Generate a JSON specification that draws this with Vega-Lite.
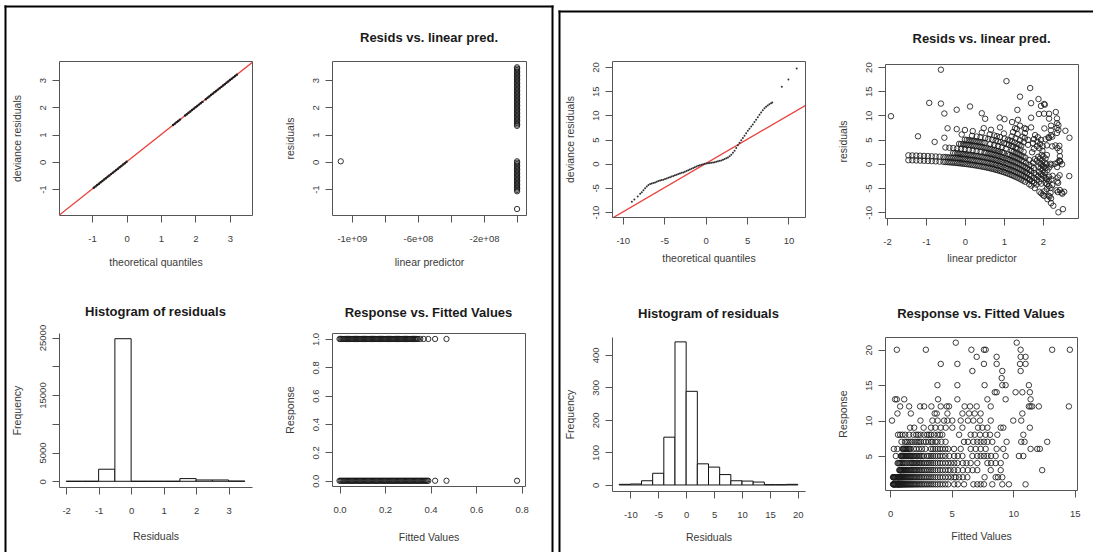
{
  "$schema": "https://vega.github.io/schema/vega-lite/v6.json",
  "background": "white",
  "padding": {"left": 5, "top": 6, "right": 0, "bottom": 0},
  "config": {
    "font": "Liberation Sans",
    "view": {"stroke": "#555", "strokeWidth": 1},
    "axis": {
      "grid": false, "domain": false, "ticks": true, "tickSize": 7, "tickColor": "#555", "tickWidth": 1,
      "labelFont": "Liberation Sans", "labelFontSize": 9.5, "labelColor": "#3a3a3a", "labelFlush": false, "labelOverlap": false,
      "titleFont": "Liberation Sans", "titleFontSize": 10.5, "titleFontWeight": "normal", "titleColor": "#3a3a3a"
    },
    "axisX": {"labelPadding": 11, "titlePadding": 14},
    "axisY": {"labelPadding": 5, "labelAngle": 270, "labelAlign": "center", "labelBaseline": "bottom", "titlePadding": 15},
    "title": {"font": "Liberation Sans", "fontSize": 13, "fontWeight": "bold", "color": "#1a1a1a", "frame": "group", "anchor": "middle", "baseline": "bottom", "offset": 16}
  },
  "datasets": {
    "qqL": [
      {"tq":-0.95,"dr":-0.95},{"tq":-0.9,"dr":-0.9},{"tq":-0.85,"dr":-0.85},{"tq":-0.8,"dr":-0.8},{"tq":-0.75,"dr":-0.75},{"tq":-0.7,"dr":-0.7},{"tq":-0.65,"dr":-0.65},{"tq":-0.6,"dr":-0.6},{"tq":-0.55,"dr":-0.55},{"tq":-0.5,"dr":-0.5},{"tq":-0.45,"dr":-0.45},{"tq":-0.4,"dr":-0.4},{"tq":-0.35,"dr":-0.35},{"tq":-0.3,"dr":-0.3},{"tq":-0.25,"dr":-0.25},{"tq":-0.2,"dr":-0.2},{"tq":-0.15,"dr":-0.15},{"tq":-0.1,"dr":-0.1},{"tq":-0.05,"dr":-0.05},{"tq":0,"dr":0},
      {"tq":1.35,"dr":1.35},{"tq":1.4,"dr":1.4},{"tq":1.45,"dr":1.45},{"tq":1.5,"dr":1.5},{"tq":1.55,"dr":1.55},{"tq":1.7,"dr":1.7},{"tq":1.75,"dr":1.75},{"tq":1.8,"dr":1.8},{"tq":1.85,"dr":1.85},{"tq":1.9,"dr":1.9},{"tq":1.95,"dr":1.95},{"tq":2,"dr":2},{"tq":2.05,"dr":2.05},{"tq":2.1,"dr":2.1},{"tq":2.15,"dr":2.15},{"tq":2.2,"dr":2.2},{"tq":2.3,"dr":2.3},{"tq":2.35,"dr":2.35},{"tq":2.4,"dr":2.4},{"tq":2.45,"dr":2.45},{"tq":2.5,"dr":2.5},{"tq":2.55,"dr":2.55},{"tq":2.6,"dr":2.6},{"tq":2.65,"dr":2.65},{"tq":2.7,"dr":2.7},{"tq":2.75,"dr":2.75},{"tq":2.8,"dr":2.8},{"tq":2.85,"dr":2.85},{"tq":2.9,"dr":2.9},{"tq":2.95,"dr":2.95},{"tq":3,"dr":3},{"tq":3.05,"dr":3.05},{"tq":3.1,"dr":3.1},{"tq":3.15,"dr":3.15},{"tq":3.2,"dr":3.2}
    ],
    "refL": [{"tq":-2,"dr":-2},{"tq":3.8,"dr":3.8}],
    "rvL": [
      {"lp":-1067000000,"res":0.02},{"lp":0,"res":-1.73},
      {"lp":0,"res":1.32},{"lp":0,"res":1.37},{"lp":0,"res":1.42},{"lp":0,"res":1.47},{"lp":0,"res":1.52},{"lp":0,"res":1.57},{"lp":0,"res":1.62},{"lp":0,"res":1.67},{"lp":0,"res":1.72},{"lp":0,"res":1.77},{"lp":0,"res":1.82},{"lp":0,"res":1.87},{"lp":0,"res":1.92},{"lp":0,"res":1.97},{"lp":0,"res":2.02},{"lp":0,"res":2.07},{"lp":0,"res":2.12},{"lp":0,"res":2.17},{"lp":0,"res":2.22},{"lp":0,"res":2.27},{"lp":0,"res":2.32},{"lp":0,"res":2.37},{"lp":0,"res":2.42},{"lp":0,"res":2.47},{"lp":0,"res":2.52},{"lp":0,"res":2.57},{"lp":0,"res":2.62},{"lp":0,"res":2.67},{"lp":0,"res":2.72},{"lp":0,"res":2.77},{"lp":0,"res":2.82},{"lp":0,"res":2.87},{"lp":0,"res":2.92},{"lp":0,"res":2.97},{"lp":0,"res":3.02},{"lp":0,"res":3.07},{"lp":0,"res":3.12},{"lp":0,"res":3.17},{"lp":0,"res":3.22},{"lp":0,"res":3.27},{"lp":0,"res":3.32},{"lp":0,"res":3.37},{"lp":0,"res":3.42},{"lp":0,"res":3.47},
      {"lp":0,"res":-1.08},{"lp":0,"res":-1.03},{"lp":0,"res":-0.98},{"lp":0,"res":-0.93},{"lp":0,"res":-0.88},{"lp":0,"res":-0.83},{"lp":0,"res":-0.78},{"lp":0,"res":-0.73},{"lp":0,"res":-0.68},{"lp":0,"res":-0.63},{"lp":0,"res":-0.58},{"lp":0,"res":-0.53},{"lp":0,"res":-0.48},{"lp":0,"res":-0.43},{"lp":0,"res":-0.38},{"lp":0,"res":-0.33},{"lp":0,"res":-0.28},{"lp":0,"res":-0.23},{"lp":0,"res":-0.18},{"lp":0,"res":-0.13},{"lp":0,"res":-0.08},{"lp":0,"res":-0.03},{"lp":0,"res":0.02}
    ],
    "histL": [
      {"lo":-2,"hi":-1.5,"n":0},{"lo":-1.5,"hi":-1,"n":0},{"lo":-1,"hi":-0.5,"n":2100},{"lo":-0.5,"hi":0,"n":24800},{"lo":0,"hi":0.5,"n":0},{"lo":0.5,"hi":1,"n":0},{"lo":1,"hi":1.5,"n":0},{"lo":1.5,"hi":2,"n":470},{"lo":2,"hi":2.5,"n":230},{"lo":2.5,"hi":3,"n":230},{"lo":3,"hi":3.5,"n":40}
    ],
    "rfL": [
      {"fv":0,"resp":1},{"fv":0.005,"resp":1},{"fv":0.01,"resp":1},{"fv":0.015,"resp":1},{"fv":0.02,"resp":1},{"fv":0.025,"resp":1},{"fv":0.03,"resp":1},{"fv":0.035,"resp":1},{"fv":0.04,"resp":1},{"fv":0.045,"resp":1},{"fv":0.05,"resp":1},{"fv":0.055,"resp":1},{"fv":0.06,"resp":1},{"fv":0.065,"resp":1},{"fv":0.07,"resp":1},{"fv":0.075,"resp":1},{"fv":0.08,"resp":1},{"fv":0.085,"resp":1},{"fv":0.09,"resp":1},{"fv":0.095,"resp":1},{"fv":0.1,"resp":1},{"fv":0.105,"resp":1},{"fv":0.11,"resp":1},{"fv":0.115,"resp":1},{"fv":0.12,"resp":1},{"fv":0.125,"resp":1},{"fv":0.13,"resp":1},{"fv":0.135,"resp":1},{"fv":0.14,"resp":1},{"fv":0.145,"resp":1},{"fv":0.15,"resp":1},{"fv":0.155,"resp":1},{"fv":0.16,"resp":1},{"fv":0.165,"resp":1},{"fv":0.17,"resp":1},{"fv":0.175,"resp":1},{"fv":0.18,"resp":1},{"fv":0.185,"resp":1},{"fv":0.19,"resp":1},{"fv":0.195,"resp":1},{"fv":0.2,"resp":1},{"fv":0.205,"resp":1},{"fv":0.21,"resp":1},{"fv":0.215,"resp":1},{"fv":0.22,"resp":1},{"fv":0.225,"resp":1},{"fv":0.23,"resp":1},{"fv":0.235,"resp":1},{"fv":0.24,"resp":1},{"fv":0.245,"resp":1},{"fv":0.25,"resp":1},{"fv":0.255,"resp":1},{"fv":0.26,"resp":1},{"fv":0.265,"resp":1},{"fv":0.27,"resp":1},{"fv":0.275,"resp":1},{"fv":0.28,"resp":1},{"fv":0.285,"resp":1},{"fv":0.29,"resp":1},{"fv":0.295,"resp":1},{"fv":0.3,"resp":1},{"fv":0.305,"resp":1},{"fv":0.31,"resp":1},{"fv":0.315,"resp":1},{"fv":0.32,"resp":1},{"fv":0.325,"resp":1},{"fv":0.33,"resp":1},{"fv":0.335,"resp":1},{"fv":0.34,"resp":1},{"fv":0.345,"resp":1},{"fv":0.355,"resp":1},{"fv":0.37,"resp":1},{"fv":0.39,"resp":1},{"fv":0.42,"resp":1},{"fv":0.47,"resp":1},
      {"fv":0,"resp":0},{"fv":0.005,"resp":0},{"fv":0.01,"resp":0},{"fv":0.015,"resp":0},{"fv":0.02,"resp":0},{"fv":0.025,"resp":0},{"fv":0.03,"resp":0},{"fv":0.035,"resp":0},{"fv":0.04,"resp":0},{"fv":0.045,"resp":0},{"fv":0.05,"resp":0},{"fv":0.055,"resp":0},{"fv":0.06,"resp":0},{"fv":0.065,"resp":0},{"fv":0.07,"resp":0},{"fv":0.075,"resp":0},{"fv":0.08,"resp":0},{"fv":0.085,"resp":0},{"fv":0.09,"resp":0},{"fv":0.095,"resp":0},{"fv":0.1,"resp":0},{"fv":0.105,"resp":0},{"fv":0.11,"resp":0},{"fv":0.115,"resp":0},{"fv":0.12,"resp":0},{"fv":0.125,"resp":0},{"fv":0.13,"resp":0},{"fv":0.135,"resp":0},{"fv":0.14,"resp":0},{"fv":0.145,"resp":0},{"fv":0.15,"resp":0},{"fv":0.155,"resp":0},{"fv":0.16,"resp":0},{"fv":0.165,"resp":0},{"fv":0.17,"resp":0},{"fv":0.175,"resp":0},{"fv":0.18,"resp":0},{"fv":0.185,"resp":0},{"fv":0.19,"resp":0},{"fv":0.195,"resp":0},{"fv":0.2,"resp":0},{"fv":0.205,"resp":0},{"fv":0.21,"resp":0},{"fv":0.215,"resp":0},{"fv":0.22,"resp":0},{"fv":0.225,"resp":0},{"fv":0.23,"resp":0},{"fv":0.235,"resp":0},{"fv":0.24,"resp":0},{"fv":0.245,"resp":0},{"fv":0.25,"resp":0},{"fv":0.255,"resp":0},{"fv":0.26,"resp":0},{"fv":0.265,"resp":0},{"fv":0.27,"resp":0},{"fv":0.275,"resp":0},{"fv":0.28,"resp":0},{"fv":0.285,"resp":0},{"fv":0.29,"resp":0},{"fv":0.295,"resp":0},{"fv":0.3,"resp":0},{"fv":0.305,"resp":0},{"fv":0.31,"resp":0},{"fv":0.315,"resp":0},{"fv":0.32,"resp":0},{"fv":0.325,"resp":0},{"fv":0.33,"resp":0},{"fv":0.335,"resp":0},{"fv":0.34,"resp":0},{"fv":0.345,"resp":0},{"fv":0.35,"resp":0},{"fv":0.355,"resp":0},{"fv":0.36,"resp":0},{"fv":0.365,"resp":0},{"fv":0.37,"resp":0},{"fv":0.375,"resp":0},{"fv":0.38,"resp":0},{"fv":0.385,"resp":0},{"fv":0.39,"resp":0},{"fv":0.42,"resp":0},{"fv":0.47,"resp":0},{"fv":0.78,"resp":0}
    ],
    "qqR": [
      {"tq":-8.9,"dr":-7.9},{"tq":-8.6,"dr":-7.4},{"tq":-8.2,"dr":-6.8},{"tq":-7.9,"dr":-6.2},{"tq":-7.7,"dr":-5.9},{"tq":-7.5,"dr":-5.5},{"tq":-7.3,"dr":-5.1},{"tq":-7.1,"dr":-4.7},{"tq":-6.9,"dr":-4.4},{"tq":-6.7,"dr":-4.2},{"tq":-6.5,"dr":-4.1},{"tq":-6.3,"dr":-4.0},{"tq":-6.1,"dr":-3.9},{"tq":-5.9,"dr":-3.75},{"tq":-5.7,"dr":-3.6},{"tq":-5.5,"dr":-3.5},{"tq":-5.3,"dr":-3.4},{"tq":-5.1,"dr":-3.3},{"tq":-4.9,"dr":-3.15},{"tq":-4.7,"dr":-3.05},{"tq":-4.5,"dr":-2.9},{"tq":-4.3,"dr":-2.8},{"tq":-4.1,"dr":-2.65},{"tq":-3.9,"dr":-2.55},{"tq":-3.7,"dr":-2.4},{"tq":-3.5,"dr":-2.3},{"tq":-3.3,"dr":-2.15},{"tq":-3.1,"dr":-2.05},{"tq":-2.9,"dr":-1.9},{"tq":-2.7,"dr":-1.8},{"tq":-2.5,"dr":-1.65},{"tq":-2.3,"dr":-1.5},{"tq":-2.1,"dr":-1.35},{"tq":-1.9,"dr":-1.2},{"tq":-1.7,"dr":-1.05},{"tq":-1.5,"dr":-0.9},{"tq":-1.3,"dr":-0.75},{"tq":-1.1,"dr":-0.6},{"tq":-0.9,"dr":-0.45},{"tq":-0.7,"dr":-0.3},{"tq":-0.5,"dr":-0.2},{"tq":-0.3,"dr":-0.1},{"tq":-0.1,"dr":-0.03},{"tq":0.1,"dr":0.03},{"tq":0.3,"dr":0.08},{"tq":0.5,"dr":0.13},{"tq":0.7,"dr":0.18},{"tq":0.9,"dr":0.25},{"tq":1.1,"dr":0.32},{"tq":1.3,"dr":0.4},{"tq":1.5,"dr":0.48},{"tq":1.7,"dr":0.58},{"tq":1.9,"dr":0.68},{"tq":2.1,"dr":0.8},{"tq":2.3,"dr":0.95},{"tq":2.5,"dr":1.1},{"tq":2.7,"dr":1.3},{"tq":2.9,"dr":1.55},{"tq":3.1,"dr":1.85},{"tq":3.3,"dr":2.25},{"tq":3.5,"dr":2.7},{"tq":3.7,"dr":3.25},{"tq":3.9,"dr":3.8},{"tq":4.1,"dr":4.35},{"tq":4.3,"dr":4.85},{"tq":4.5,"dr":5.3},{"tq":4.7,"dr":5.8},{"tq":4.9,"dr":6.3},{"tq":5.1,"dr":6.8},{"tq":5.3,"dr":7.25},{"tq":5.5,"dr":7.7},{"tq":5.7,"dr":8.1},{"tq":5.9,"dr":8.6},{"tq":6.1,"dr":9.1},{"tq":6.3,"dr":9.6},{"tq":6.5,"dr":10.1},{"tq":6.7,"dr":10.6},{"tq":6.9,"dr":11.05},{"tq":7.1,"dr":11.45},{"tq":7.3,"dr":11.8},{"tq":7.5,"dr":12.05},{"tq":7.7,"dr":12.3},{"tq":7.9,"dr":12.5},{"tq":8.05,"dr":12.65},{"tq":9.2,"dr":15.9},{"tq":10.0,"dr":17.4},{"tq":11.0,"dr":19.7}
    ],
    "refR": [{"tq":-12,"dr":-12},{"tq":12.5,"dr":12.5}],
    "histR": [
      {"lo":-12,"hi":-10,"n":2},{"lo":-10,"hi":-8,"n":3},{"lo":-8,"hi":-6,"n":13},{"lo":-6,"hi":-4,"n":36},{"lo":-4,"hi":-2,"n":147},{"lo":-2,"hi":0,"n":440},{"lo":0,"hi":2,"n":288},{"lo":2,"hi":4,"n":65},{"lo":4,"hi":6,"n":55},{"lo":6,"hi":8,"n":32},{"lo":8,"hi":10,"n":13},{"lo":10,"hi":12,"n":12},{"lo":12,"hi":14,"n":9},{"lo":14,"hi":16,"n":1},{"lo":16,"hi":18,"n":1},{"lo":18,"hi":20,"n":2}
    ],
    "obs": [
      {"lp":-1.45,"fit":0.235,"resp":1,"res":0.765},{"lp":-1.35,"fit":0.259,"resp":1,"res":0.741},{"lp":-1.25,"fit":0.287,"resp":1,"res":0.713},{"lp":-1.15,"fit":0.317,"resp":1,"res":0.683},{"lp":-1.05,"fit":0.35,"resp":1,"res":0.65},{"lp":-0.95,"fit":0.387,"resp":1,"res":0.613},{"lp":-0.85,"fit":0.427,"resp":1,"res":0.573},{"lp":-0.75,"fit":0.472,"resp":1,"res":0.528},{"lp":-0.65,"fit":0.522,"resp":1,"res":0.478},{"lp":-0.55,"fit":0.577,"resp":1,"res":0.423},
      {"lp":-0.5,"fit":0.607,"resp":1,"res":0.393},{"lp":-0.45,"fit":0.638,"resp":1,"res":0.362},{"lp":-0.4,"fit":0.67,"resp":1,"res":0.33},{"lp":-0.35,"fit":0.705,"resp":1,"res":0.295},{"lp":-0.3,"fit":0.741,"resp":1,"res":0.259},{"lp":-0.25,"fit":0.779,"resp":1,"res":0.221},{"lp":-0.2,"fit":0.819,"resp":1,"res":0.181},{"lp":-0.15,"fit":0.861,"resp":1,"res":0.139},{"lp":-0.1,"fit":0.905,"resp":1,"res":0.095},{"lp":-0.05,"fit":0.951,"resp":1,"res":0.049},
      {"lp":0,"fit":1,"resp":1,"res":0},{"lp":0.05,"fit":1.051,"resp":1,"res":-0.051},{"lp":0.1,"fit":1.105,"resp":1,"res":-0.105},{"lp":0.15,"fit":1.162,"resp":1,"res":-0.162},{"lp":0.2,"fit":1.221,"resp":1,"res":-0.221},{"lp":0.25,"fit":1.284,"resp":1,"res":-0.284},{"lp":0.3,"fit":1.35,"resp":1,"res":-0.35},{"lp":0.35,"fit":1.419,"resp":1,"res":-0.419},{"lp":0.4,"fit":1.492,"resp":1,"res":-0.492},{"lp":0.45,"fit":1.568,"resp":1,"res":-0.568},
      {"lp":0.5,"fit":1.649,"resp":1,"res":-0.649},{"lp":0.55,"fit":1.733,"resp":1,"res":-0.733},{"lp":0.6,"fit":1.822,"resp":1,"res":-0.822},{"lp":0.65,"fit":1.916,"resp":1,"res":-0.916},{"lp":0.7,"fit":2.014,"resp":1,"res":-1.014},{"lp":0.75,"fit":2.117,"resp":1,"res":-1.117},{"lp":0.8,"fit":2.226,"resp":1,"res":-1.226},{"lp":0.85,"fit":2.34,"resp":1,"res":-1.34},{"lp":0.9,"fit":2.46,"resp":1,"res":-1.46},{"lp":0.95,"fit":2.586,"resp":1,"res":-1.586},
      {"lp":1,"fit":2.718,"resp":1,"res":-1.718},{"lp":1.05,"fit":2.858,"resp":1,"res":-1.858},{"lp":1.1,"fit":3.004,"resp":1,"res":-2.004},{"lp":1.15,"fit":3.158,"resp":1,"res":-2.158},{"lp":1.2,"fit":3.32,"resp":1,"res":-2.32},{"lp":1.25,"fit":3.49,"resp":1,"res":-2.49},{"lp":1.3,"fit":3.669,"resp":1,"res":-2.669},{"lp":1.35,"fit":3.857,"resp":1,"res":-2.857},{"lp":1.4,"fit":4.055,"resp":1,"res":-3.055},{"lp":1.45,"fit":4.263,"resp":1,"res":-3.263},
      {"lp":1.5,"fit":4.482,"resp":1,"res":-3.482},{"lp":1.55,"fit":4.711,"resp":1,"res":-3.711},{"lp":1.649,"fit":5.2,"resp":1,"res":-4.2},{"lp":1.705,"fit":5.5,"resp":1,"res":-4.5},{"lp":1.792,"fit":6.0,"resp":1,"res":-5.0},{"lp":1.911,"fit":6.76,"resp":1,"res":-5.76},{"lp":1.957,"fit":7.08,"resp":1,"res":-6.08},{"lp":1.995,"fit":7.35,"resp":1,"res":-6.35},{"lp":2.031,"fit":7.62,"resp":1,"res":-6.62},{"lp":2.116,"fit":8.3,"resp":1,"res":-7.3},{"lp":2.209,"fit":9.11,"resp":1,"res":-8.11},{"lp":2.267,"fit":9.65,"resp":1,"res":-8.65},{"lp":2.398,"fit":11.0,"resp":1,"res":-10.0},
      {"lp":-1.45,"fit":0.235,"resp":2,"res":1.765},{"lp":-1.35,"fit":0.259,"resp":2,"res":1.741},{"lp":-1.25,"fit":0.287,"resp":2,"res":1.713},{"lp":-1.15,"fit":0.317,"resp":2,"res":1.683},{"lp":-1.05,"fit":0.35,"resp":2,"res":1.65},{"lp":-0.95,"fit":0.387,"resp":2,"res":1.613},{"lp":-0.85,"fit":0.427,"resp":2,"res":1.573},{"lp":-0.75,"fit":0.472,"resp":2,"res":1.528},{"lp":-0.65,"fit":0.522,"resp":2,"res":1.478},{"lp":-0.55,"fit":0.577,"resp":2,"res":1.423},
      {"lp":-0.5,"fit":0.607,"resp":2,"res":1.393},{"lp":-0.45,"fit":0.638,"resp":2,"res":1.362},{"lp":-0.4,"fit":0.67,"resp":2,"res":1.33},{"lp":-0.35,"fit":0.705,"resp":2,"res":1.295},{"lp":-0.3,"fit":0.741,"resp":2,"res":1.259},{"lp":-0.25,"fit":0.779,"resp":2,"res":1.221},{"lp":-0.2,"fit":0.819,"resp":2,"res":1.181},{"lp":-0.15,"fit":0.861,"resp":2,"res":1.139},{"lp":-0.1,"fit":0.905,"resp":2,"res":1.095},{"lp":-0.05,"fit":0.951,"resp":2,"res":1.049},
      {"lp":0,"fit":1,"resp":2,"res":1},{"lp":0.05,"fit":1.051,"resp":2,"res":0.949},{"lp":0.1,"fit":1.105,"resp":2,"res":0.895},{"lp":0.15,"fit":1.162,"resp":2,"res":0.838},{"lp":0.2,"fit":1.221,"resp":2,"res":0.779},{"lp":0.25,"fit":1.284,"resp":2,"res":0.716},{"lp":0.3,"fit":1.35,"resp":2,"res":0.65},{"lp":0.35,"fit":1.419,"resp":2,"res":0.581},{"lp":0.4,"fit":1.492,"resp":2,"res":0.508},{"lp":0.45,"fit":1.568,"resp":2,"res":0.432},
      {"lp":0.5,"fit":1.649,"resp":2,"res":0.351},{"lp":0.55,"fit":1.733,"resp":2,"res":0.267},{"lp":0.6,"fit":1.822,"resp":2,"res":0.178},{"lp":0.65,"fit":1.916,"resp":2,"res":0.084},{"lp":0.7,"fit":2.014,"resp":2,"res":-0.014},{"lp":0.75,"fit":2.117,"resp":2,"res":-0.117},{"lp":0.8,"fit":2.226,"resp":2,"res":-0.226},{"lp":0.85,"fit":2.34,"resp":2,"res":-0.34},{"lp":0.9,"fit":2.46,"resp":2,"res":-0.46},{"lp":0.95,"fit":2.586,"resp":2,"res":-0.586},
      {"lp":1,"fit":2.718,"resp":2,"res":-0.718},{"lp":1.05,"fit":2.858,"resp":2,"res":-0.858},{"lp":1.1,"fit":3.004,"resp":2,"res":-1.004},{"lp":1.15,"fit":3.158,"resp":2,"res":-1.158},{"lp":1.2,"fit":3.32,"resp":2,"res":-1.32},{"lp":1.25,"fit":3.49,"resp":2,"res":-1.49},{"lp":1.3,"fit":3.669,"resp":2,"res":-1.669},{"lp":1.35,"fit":3.857,"resp":2,"res":-1.857},{"lp":1.4,"fit":4.055,"resp":2,"res":-2.055},{"lp":1.45,"fit":4.263,"resp":2,"res":-2.263},
      {"lp":1.5,"fit":4.482,"resp":2,"res":-2.482},{"lp":1.55,"fit":4.711,"resp":2,"res":-2.711},{"lp":1.6,"fit":4.953,"resp":2,"res":-2.953},{"lp":1.65,"fit":5.207,"resp":2,"res":-3.207},{"lp":1.673,"fit":5.33,"resp":2,"res":-3.33},{"lp":1.723,"fit":5.6,"resp":2,"res":-3.6},{"lp":1.775,"fit":5.9,"resp":2,"res":-3.9},{"lp":1.836,"fit":6.27,"resp":2,"res":-4.27},{"lp":2.037,"fit":7.67,"resp":2,"res":-5.67},{"lp":2.148,"fit":8.57,"resp":2,"res":-6.57},{"lp":2.17,"fit":8.76,"resp":2,"res":-6.76},{"lp":2.209,"fit":9.11,"resp":2,"res":-7.11},
      {"lp":-0.3,"fit":0.741,"resp":3,"res":2.259},{"lp":-0.25,"fit":0.779,"resp":3,"res":2.221},{"lp":-0.2,"fit":0.819,"resp":3,"res":2.181},{"lp":-0.15,"fit":0.861,"resp":3,"res":2.139},{"lp":-0.1,"fit":0.905,"resp":3,"res":2.095},{"lp":-0.05,"fit":0.951,"resp":3,"res":2.049},{"lp":0,"fit":1,"resp":3,"res":2},{"lp":0.05,"fit":1.051,"resp":3,"res":1.949},{"lp":0.1,"fit":1.105,"resp":3,"res":1.895},{"lp":0.15,"fit":1.162,"resp":3,"res":1.838},
      {"lp":0.2,"fit":1.221,"resp":3,"res":1.779},{"lp":0.25,"fit":1.284,"resp":3,"res":1.716},{"lp":0.3,"fit":1.35,"resp":3,"res":1.65},{"lp":0.35,"fit":1.419,"resp":3,"res":1.581},{"lp":0.4,"fit":1.492,"resp":3,"res":1.508},{"lp":0.45,"fit":1.568,"resp":3,"res":1.432},{"lp":0.5,"fit":1.649,"resp":3,"res":1.351},{"lp":0.55,"fit":1.733,"resp":3,"res":1.267},{"lp":0.6,"fit":1.822,"resp":3,"res":1.178},{"lp":0.65,"fit":1.916,"resp":3,"res":1.084},
      {"lp":0.7,"fit":2.014,"resp":3,"res":0.986},{"lp":0.75,"fit":2.117,"resp":3,"res":0.883},{"lp":0.8,"fit":2.226,"resp":3,"res":0.774},{"lp":0.85,"fit":2.34,"resp":3,"res":0.66},{"lp":0.9,"fit":2.46,"resp":3,"res":0.54},{"lp":0.95,"fit":2.586,"resp":3,"res":0.414},{"lp":1,"fit":2.718,"resp":3,"res":0.282},{"lp":1.05,"fit":2.858,"resp":3,"res":0.142},{"lp":1.1,"fit":3.004,"resp":3,"res":-0.004},{"lp":1.15,"fit":3.158,"resp":3,"res":-0.158},
      {"lp":1.2,"fit":3.32,"resp":3,"res":-0.32},{"lp":1.25,"fit":3.49,"resp":3,"res":-0.49},{"lp":1.3,"fit":3.669,"resp":3,"res":-0.669},{"lp":1.35,"fit":3.857,"resp":3,"res":-0.857},{"lp":1.4,"fit":4.055,"resp":3,"res":-1.055},{"lp":1.45,"fit":4.263,"resp":3,"res":-1.263},{"lp":1.5,"fit":4.482,"resp":3,"res":-1.482},{"lp":1.55,"fit":4.711,"resp":3,"res":-1.711},
      {"lp":1.589,"fit":4.9,"resp":3,"res":-1.9},{"lp":1.649,"fit":5.2,"resp":3,"res":-2.2},{"lp":1.705,"fit":5.5,"resp":3,"res":-2.5},{"lp":1.775,"fit":5.9,"resp":3,"res":-2.9},{"lp":1.841,"fit":6.3,"resp":3,"res":-3.3},{"lp":1.902,"fit":6.7,"resp":3,"res":-3.7},{"lp":1.957,"fit":7.08,"resp":3,"res":-4.08},{"lp":2.101,"fit":8.17,"resp":3,"res":-5.17},{"lp":2.195,"fit":8.98,"resp":3,"res":-5.98},{"lp":2.514,"fit":12.35,"resp":3,"res":-9.35},
      {"lp":-0.5,"fit":0.607,"resp":4,"res":3.393},{"lp":-0.4,"fit":0.67,"resp":4,"res":3.33},{"lp":-0.3,"fit":0.741,"resp":4,"res":3.259},{"lp":-0.2,"fit":0.819,"resp":4,"res":3.181},{"lp":-0.1,"fit":0.905,"resp":4,"res":3.095},{"lp":0,"fit":1,"resp":4,"res":3},{"lp":0.1,"fit":1.105,"resp":4,"res":2.895},{"lp":0.2,"fit":1.221,"resp":4,"res":2.779},{"lp":0.3,"fit":1.35,"resp":4,"res":2.65},{"lp":0.4,"fit":1.492,"resp":4,"res":2.508},
      {"lp":0.5,"fit":1.649,"resp":4,"res":2.351},{"lp":0.55,"fit":1.733,"resp":4,"res":2.267},{"lp":0.6,"fit":1.822,"resp":4,"res":2.178},{"lp":0.65,"fit":1.916,"resp":4,"res":2.084},{"lp":0.7,"fit":2.014,"resp":4,"res":1.986},{"lp":0.75,"fit":2.117,"resp":4,"res":1.883},{"lp":0.8,"fit":2.226,"resp":4,"res":1.774},{"lp":0.85,"fit":2.34,"resp":4,"res":1.66},{"lp":0.9,"fit":2.46,"resp":4,"res":1.54},{"lp":0.95,"fit":2.586,"resp":4,"res":1.414},
      {"lp":1,"fit":2.718,"resp":4,"res":1.282},{"lp":1.05,"fit":2.858,"resp":4,"res":1.142},{"lp":1.1,"fit":3.004,"resp":4,"res":0.996},{"lp":1.15,"fit":3.158,"resp":4,"res":0.842},{"lp":1.2,"fit":3.32,"resp":4,"res":0.68},{"lp":1.25,"fit":3.49,"resp":4,"res":0.51},{"lp":1.3,"fit":3.669,"resp":4,"res":0.331},{"lp":1.35,"fit":3.857,"resp":4,"res":0.143},{"lp":1.4,"fit":4.055,"resp":4,"res":-0.055},{"lp":1.45,"fit":4.263,"resp":4,"res":-0.263},
      {"lp":1.5,"fit":4.482,"resp":4,"res":-0.482},{"lp":1.55,"fit":4.711,"resp":4,"res":-0.711},{"lp":1.6,"fit":4.953,"resp":4,"res":-0.953},{"lp":1.65,"fit":5.207,"resp":4,"res":-1.207},{"lp":1.697,"fit":5.46,"resp":4,"res":-1.46},{"lp":1.775,"fit":5.9,"resp":4,"res":-1.9},{"lp":1.825,"fit":6.2,"resp":4,"res":-2.2},{"lp":1.878,"fit":6.54,"resp":4,"res":-2.54},{"lp":1.957,"fit":7.08,"resp":4,"res":-3.08},{"lp":2.067,"fit":7.9,"resp":4,"res":-3.9},{"lp":2.104,"fit":8.2,"resp":4,"res":-4.2},{"lp":2.148,"fit":8.57,"resp":4,"res":-4.57},{"lp":2.195,"fit":8.98,"resp":4,"res":-4.98},
      {"lp":-0.777,"fit":0.46,"resp":5,"res":4.54},{"lp":-0.15,"fit":0.861,"resp":5,"res":4.139},{"lp":-0.1,"fit":0.905,"resp":5,"res":4.095},{"lp":-0.05,"fit":0.951,"resp":5,"res":4.049},{"lp":0,"fit":1,"resp":5,"res":4},{"lp":0.05,"fit":1.051,"resp":5,"res":3.949},{"lp":0.1,"fit":1.105,"resp":5,"res":3.895},{"lp":0.15,"fit":1.162,"resp":5,"res":3.838},{"lp":0.2,"fit":1.221,"resp":5,"res":3.779},{"lp":0.25,"fit":1.284,"resp":5,"res":3.716},
      {"lp":0.3,"fit":1.35,"resp":5,"res":3.65},{"lp":0.35,"fit":1.419,"resp":5,"res":3.581},{"lp":0.4,"fit":1.492,"resp":5,"res":3.508},{"lp":0.45,"fit":1.568,"resp":5,"res":3.432},{"lp":0.5,"fit":1.649,"resp":5,"res":3.351},{"lp":0.55,"fit":1.733,"resp":5,"res":3.267},{"lp":0.6,"fit":1.822,"resp":5,"res":3.178},{"lp":0.65,"fit":1.916,"resp":5,"res":3.084},{"lp":0.7,"fit":2.014,"resp":5,"res":2.986},{"lp":0.75,"fit":2.117,"resp":5,"res":2.883},
      {"lp":0.8,"fit":2.226,"resp":5,"res":2.774},{"lp":0.85,"fit":2.34,"resp":5,"res":2.66},{"lp":0.9,"fit":2.46,"resp":5,"res":2.54},{"lp":0.95,"fit":2.586,"resp":5,"res":2.414},{"lp":1,"fit":2.718,"resp":5,"res":2.282},{"lp":1.1,"fit":3.004,"resp":5,"res":1.996},{"lp":1.15,"fit":3.158,"resp":5,"res":1.842},{"lp":1.2,"fit":3.32,"resp":5,"res":1.68},{"lp":1.25,"fit":3.49,"resp":5,"res":1.51},{"lp":1.3,"fit":3.669,"resp":5,"res":1.331},
      {"lp":1.35,"fit":3.857,"resp":5,"res":1.143},{"lp":1.4,"fit":4.055,"resp":5,"res":0.945},{"lp":1.45,"fit":4.263,"resp":5,"res":0.737},{"lp":1.5,"fit":4.482,"resp":5,"res":0.518},{"lp":1.569,"fit":4.8,"resp":5,"res":0.2},{"lp":1.649,"fit":5.2,"resp":5,"res":-0.2},{"lp":1.705,"fit":5.5,"resp":5,"res":-0.5},{"lp":1.77,"fit":5.87,"resp":5,"res":-0.87},{"lp":1.899,"fit":6.68,"resp":5,"res":-1.68},{"lp":1.957,"fit":7.08,"resp":5,"res":-2.08},
      {"lp":1.995,"fit":7.35,"resp":5,"res":-2.35},{"lp":2.031,"fit":7.62,"resp":5,"res":-2.62},{"lp":2.067,"fit":7.9,"resp":5,"res":-2.9},{"lp":2.104,"fit":8.2,"resp":5,"res":-3.2},{"lp":2.148,"fit":8.57,"resp":5,"res":-3.57},{"lp":2.239,"fit":9.38,"resp":5,"res":-4.38},{"lp":2.348,"fit":10.46,"resp":5,"res":-5.46},{"lp":2.381,"fit":10.82,"resp":5,"res":-5.82},
      {"lp":-1.204,"fit":0.3,"resp":6,"res":5.7},{"lp":-0.528,"fit":0.59,"resp":6,"res":5.41},{"lp":0,"fit":1,"resp":6,"res":5},{"lp":0.05,"fit":1.051,"resp":6,"res":4.949},{"lp":0.1,"fit":1.105,"resp":6,"res":4.895},{"lp":0.15,"fit":1.162,"resp":6,"res":4.838},{"lp":0.2,"fit":1.221,"resp":6,"res":4.779},{"lp":0.25,"fit":1.284,"resp":6,"res":4.716},{"lp":0.3,"fit":1.35,"resp":6,"res":4.65},{"lp":0.35,"fit":1.419,"resp":6,"res":4.581},
      {"lp":0.4,"fit":1.492,"resp":6,"res":4.508},{"lp":0.45,"fit":1.568,"resp":6,"res":4.432},{"lp":0.5,"fit":1.649,"resp":6,"res":4.351},{"lp":0.65,"fit":1.916,"resp":6,"res":4.084},{"lp":0.75,"fit":2.117,"resp":6,"res":3.883},{"lp":0.85,"fit":2.34,"resp":6,"res":3.66},{"lp":0.95,"fit":2.586,"resp":6,"res":3.414},{"lp":1.05,"fit":2.858,"resp":6,"res":3.142},{"lp":1.2,"fit":3.32,"resp":6,"res":2.68},{"lp":1.25,"fit":3.49,"resp":6,"res":2.51},
      {"lp":1.3,"fit":3.669,"resp":6,"res":2.331},{"lp":1.35,"fit":3.857,"resp":6,"res":2.143},{"lp":1.4,"fit":4.055,"resp":6,"res":1.945},{"lp":1.45,"fit":4.263,"resp":6,"res":1.737},{"lp":1.5,"fit":4.482,"resp":6,"res":1.518},{"lp":1.55,"fit":4.711,"resp":6,"res":1.289},{"lp":1.647,"fit":5.19,"resp":6,"res":0.81},{"lp":1.746,"fit":5.73,"resp":6,"res":0.27},{"lp":1.878,"fit":6.54,"resp":6,"res":-0.54},{"lp":1.939,"fit":6.95,"resp":6,"res":-0.95},
      {"lp":1.995,"fit":7.35,"resp":6,"res":-1.35},{"lp":2.049,"fit":7.76,"resp":6,"res":-1.76},{"lp":2.158,"fit":8.65,"resp":6,"res":-2.65},{"lp":2.218,"fit":9.19,"resp":6,"res":-3.19},{"lp":2.435,"fit":11.41,"resp":6,"res":-5.41},{"lp":2.481,"fit":11.95,"resp":6,"res":-5.95},{"lp":2.498,"fit":12.16,"resp":6,"res":-6.16},
      {"lp":-0.083,"fit":0.92,"resp":7,"res":6.08},{"lp":0.182,"fit":1.2,"resp":7,"res":5.8},{"lp":0.3,"fit":1.35,"resp":7,"res":5.65},{"lp":0.4,"fit":1.492,"resp":7,"res":5.508},{"lp":0.519,"fit":1.68,"resp":7,"res":5.32},{"lp":0.6,"fit":1.822,"resp":7,"res":5.178},{"lp":0.7,"fit":2.014,"resp":7,"res":4.986},{"lp":0.788,"fit":2.2,"resp":7,"res":4.8},{"lp":0.85,"fit":2.34,"resp":7,"res":4.66},{"lp":0.912,"fit":2.49,"resp":7,"res":4.51},{"lp":1.0,"fit":2.718,"resp":7,"res":4.282},{"lp":1.065,"fit":2.9,"resp":7,"res":4.1},{"lp":1.131,"fit":3.1,"resp":7,"res":3.9},{"lp":1.2,"fit":3.32,"resp":7,"res":3.68},{"lp":1.233,"fit":3.43,"resp":7,"res":3.57},{"lp":1.3,"fit":3.669,"resp":7,"res":3.331},{"lp":1.345,"fit":3.84,"resp":7,"res":3.16},{"lp":1.426,"fit":4.16,"resp":7,"res":2.84},
      {"lp":1.504,"fit":4.5,"resp":7,"res":2.5},{"lp":1.792,"fit":6.0,"resp":7,"res":1.0},{"lp":1.844,"fit":6.32,"resp":7,"res":0.68},{"lp":1.911,"fit":6.76,"resp":7,"res":0.24},{"lp":1.957,"fit":7.08,"resp":7,"res":-0.08},{"lp":1.995,"fit":7.35,"resp":7,"res":-0.35},{"lp":2.031,"fit":7.62,"resp":7,"res":-0.62},{"lp":2.067,"fit":7.9,"resp":7,"res":-0.9},{"lp":2.116,"fit":8.3,"resp":7,"res":-1.3},{"lp":2.247,"fit":9.46,"resp":7,"res":-2.46},
      {"lp":2.366,"fit":10.65,"resp":7,"res":-3.65},{"lp":2.391,"fit":10.92,"resp":7,"res":-3.92},{"lp":2.546,"fit":12.76,"resp":7,"res":-5.76},
      {"lp":-0.446,"fit":0.64,"resp":8,"res":7.36},{"lp":-0.211,"fit":0.81,"resp":8,"res":7.19},{"lp":0,"fit":1,"resp":8,"res":7},{"lp":0.2,"fit":1.221,"resp":8,"res":6.779},{"lp":0.432,"fit":1.54,"resp":8,"res":6.46},{"lp":0.637,"fit":1.89,"resp":8,"res":6.11},{"lp":0.75,"fit":2.117,"resp":8,"res":5.883},{"lp":0.82,"fit":2.27,"resp":8,"res":5.73},{"lp":0.9,"fit":2.46,"resp":8,"res":5.54},{"lp":1.015,"fit":2.76,"resp":8,"res":5.24},{"lp":1.1,"fit":3.004,"resp":8,"res":4.996},{"lp":1.151,"fit":3.16,"resp":8,"res":4.84},{"lp":1.2,"fit":3.32,"resp":8,"res":4.68},{"lp":1.273,"fit":3.57,"resp":8,"res":4.43},{"lp":1.35,"fit":3.857,"resp":8,"res":4.143},{"lp":1.399,"fit":4.05,"resp":8,"res":3.95},{"lp":1.445,"fit":4.24,"resp":8,"res":3.76},
      {"lp":1.723,"fit":5.6,"resp":8,"res":2.4},{"lp":1.878,"fit":6.54,"resp":8,"res":1.46},{"lp":1.927,"fit":6.87,"resp":8,"res":1.13},{"lp":1.988,"fit":7.3,"resp":8,"res":0.7},{"lp":2.049,"fit":7.76,"resp":8,"res":0.24},{"lp":2.093,"fit":8.11,"resp":8,"res":-0.11},{"lp":2.164,"fit":8.71,"resp":8,"res":-0.71},{"lp":2.381,"fit":10.82,"resp":8,"res":-2.82},
      {"lp":0.482,"fit":1.62,"resp":9,"res":7.38},{"lp":0.668,"fit":1.95,"resp":9,"res":7.05},{"lp":1.0,"fit":2.718,"resp":9,"res":6.282},{"lp":1.2,"fit":3.32,"resp":9,"res":5.68},{"lp":1.3,"fit":3.669,"resp":9,"res":5.331},{"lp":1.413,"fit":4.11,"resp":9,"res":4.89},{"lp":1.506,"fit":4.51,"resp":9,"res":4.49},{"lp":1.619,"fit":5.05,"resp":9,"res":3.95},{"lp":1.77,"fit":5.87,"resp":9,"res":3.13},{"lp":1.966,"fit":7.14,"resp":9,"res":1.86},{"lp":2.014,"fit":7.49,"resp":9,"res":1.51},{"lp":2.067,"fit":7.9,"resp":9,"res":1.1},{"lp":2.195,"fit":8.98,"resp":9,"res":0.02},{"lp":2.218,"fit":9.19,"resp":9,"res":-0.19},{"lp":2.429,"fit":11.35,"resp":9,"res":-2.35},
      {"lp":-1.897,"fit":0.15,"resp":10,"res":9.85},{"lp":0.9,"fit":2.46,"resp":10,"res":7.54},{"lp":1.233,"fit":3.43,"resp":10,"res":6.57},{"lp":1.35,"fit":3.857,"resp":10,"res":6.143},{"lp":1.477,"fit":4.38,"resp":10,"res":5.62},{"lp":1.537,"fit":4.65,"resp":10,"res":5.35},{"lp":1.619,"fit":5.05,"resp":10,"res":4.95},{"lp":1.746,"fit":5.73,"resp":10,"res":4.27},{"lp":1.844,"fit":6.32,"resp":10,"res":3.68},{"lp":1.911,"fit":6.76,"resp":10,"res":3.24},{"lp":1.988,"fit":7.3,"resp":10,"res":2.7},{"lp":2.101,"fit":8.17,"resp":10,"res":1.83},{"lp":2.303,"fit":10.0,"resp":10,"res":0},{"lp":2.366,"fit":10.65,"resp":10,"res":-0.65},
      {"lp":-0.528,"fit":0.59,"resp":11,"res":10.41},{"lp":0.519,"fit":1.68,"resp":11,"res":9.32},{"lp":1.286,"fit":3.62,"resp":11,"res":7.38},{"lp":1.33,"fit":3.78,"resp":11,"res":7.22},{"lp":1.537,"fit":4.65,"resp":11,"res":6.35},{"lp":1.77,"fit":5.87,"resp":11,"res":5.13},{"lp":1.858,"fit":6.41,"resp":11,"res":4.59},{"lp":1.927,"fit":6.87,"resp":11,"res":4.13},{"lp":1.995,"fit":7.35,"resp":11,"res":3.65},{"lp":2.374,"fit":10.74,"resp":11,"res":0.26},
      {"lp":-0.211,"fit":0.81,"resp":12,"res":11.19},{"lp":0.432,"fit":1.54,"resp":12,"res":10.46},{"lp":0.888,"fit":2.43,"resp":12,"res":9.57},{"lp":1.015,"fit":2.76,"resp":12,"res":9.24},{"lp":1.209,"fit":3.35,"resp":12,"res":8.65},{"lp":1.413,"fit":4.11,"resp":12,"res":7.89},{"lp":1.526,"fit":4.6,"resp":12,"res":7.4},{"lp":1.564,"fit":4.78,"resp":12,"res":7.22},{"lp":1.8,"fit":6.05,"resp":12,"res":5.95},{"lp":1.87,"fit":6.49,"resp":12,"res":5.51},
      {"lp":1.95,"fit":7.03,"resp":12,"res":4.97},{"lp":2.101,"fit":8.17,"resp":12,"res":3.83},{"lp":2.422,"fit":11.27,"resp":12,"res":0.73},{"lp":2.434,"fit":11.4,"resp":12,"res":0.6},{"lp":2.446,"fit":11.54,"resp":12,"res":0.46},{"lp":2.492,"fit":12.08,"resp":12,"res":-0.08},{"lp":2.676,"fit":14.52,"resp":12,"res":-2.52},
      {"lp":-0.916,"fit":0.4,"resp":13,"res":12.6},{"lp":-0.616,"fit":0.54,"resp":13,"res":12.46},{"lp":0.131,"fit":1.14,"resp":13,"res":11.86},{"lp":1.358,"fit":3.89,"resp":13,"res":9.11},{"lp":1.697,"fit":5.46,"resp":13,"res":7.54},{"lp":2.067,"fit":7.9,"resp":13,"res":5.1},{"lp":2.239,"fit":9.38,"resp":13,"res":3.62},{"lp":2.435,"fit":11.41,"resp":13,"res":1.59},
      {"lp":2.14,"fit":8.5,"resp":14,"res":5.5},{"lp":2.158,"fit":8.65,"resp":14,"res":5.35},{"lp":2.321,"fit":10.19,"resp":14,"res":3.81},{"lp":2.374,"fit":10.74,"resp":14,"res":3.26},{"lp":2.429,"fit":11.35,"resp":14,"res":2.65},
      {"lp":1.345,"fit":3.84,"resp":15,"res":11.16},{"lp":1.697,"fit":5.46,"resp":15,"res":9.54},{"lp":2.037,"fit":7.67,"resp":15,"res":7.33},{"lp":2.209,"fit":9.11,"resp":15,"res":5.89},{"lp":2.239,"fit":9.38,"resp":15,"res":5.62},{"lp":2.422,"fit":11.27,"resp":15,"res":3.73},
      {"lp":2.204,"fit":9.06,"resp":16,"res":6.94},
      {"lp":1.899,"fit":6.68,"resp":17,"res":10.32},{"lp":2.209,"fit":9.11,"resp":17,"res":7.89},{"lp":2.361,"fit":10.6,"resp":17,"res":6.4},
      {"lp":1.413,"fit":4.11,"resp":18,"res":13.89},{"lp":1.697,"fit":5.46,"resp":18,"res":12.54},{"lp":2.031,"fit":7.62,"resp":18,"res":10.38},{"lp":2.158,"fit":8.65,"resp":18,"res":9.35},{"lp":2.356,"fit":10.55,"resp":18,"res":7.45},{"lp":2.398,"fit":11.0,"resp":18,"res":7.0},
      {"lp":1.95,"fit":7.03,"resp":19,"res":11.97},{"lp":2.158,"fit":8.65,"resp":19,"res":10.35},{"lp":2.361,"fit":10.6,"resp":19,"res":8.4},{"lp":2.398,"fit":11.0,"resp":19,"res":8.0},
      {"lp":-0.616,"fit":0.54,"resp":20,"res":19.46},{"lp":1.065,"fit":2.9,"resp":20,"res":17.1},{"lp":1.887,"fit":6.6,"resp":20,"res":13.4},{"lp":2.031,"fit":7.62,"resp":20,"res":12.38},{"lp":2.049,"fit":7.76,"resp":20,"res":12.24},{"lp":2.361,"fit":10.6,"resp":20,"res":9.4},{"lp":2.577,"fit":13.16,"resp":20,"res":6.84},{"lp":2.681,"fit":14.6,"resp":20,"res":5.4},
      {"lp":1.673,"fit":5.33,"resp":21,"res":15.67},{"lp":2.33,"fit":10.28,"resp":21,"res":10.72}
    ]
  },
  "bounds": "flush",
  "spacing": 554,
  "hconcat": [
    {
      "bounds": "flush",
      "spacing": 54,
      "hconcat": [
        {
          "bounds": "flush",
          "vconcat": [
            {
              "width": 547, "height": 546,
              "view": {"stroke": null},
              "data": {"values": []},
              "layer": [
                {
                  "mark": {"type": "point"},
                  "encoding": {
                    "x": {"datum": 0, "type": "quantitative", "scale": {"domain": [0, 1]},
                          "axis": {"orient": "top", "title": null, "labels": false, "ticks": false, "domain": true, "domainColor": "#000", "domainWidth": 2, "domainCap": "square"}},
                    "y": {"datum": 0, "type": "quantitative", "scale": {"domain": [0, 1]},
                          "axis": {"orient": "left", "title": null, "labels": false, "ticks": false, "domain": true, "domainColor": "#000", "domainWidth": 2, "domainCap": "square"}}
                  }
                },
                {
                  "mark": {"type": "point"},
                  "encoding": {
                    "y": {"datum": 0, "type": "quantitative", "scale": {"domain": [0, 1]},
                          "axis": {"orient": "right", "title": null, "labels": false, "ticks": false, "domain": true, "domainColor": "#000", "domainWidth": 2, "domainCap": "square"}}
                  }
                }
              ],
              "resolve": {"scale": {"y": "independent"}}
            }
          ]
        },
        {
          "bounds": "flush",
          "spacing": 0,
          "vconcat": [
            {"width": 1, "height": 55, "view": {"stroke": null}, "data": {"values": []}, "mark": "point", "encoding": {}},
            {
              "bounds": "flush",
              "columns": 2,
              "spacing": {"row": 118, "column": 80},
              "concat": [
                {
                  "width": 193, "height": 154,
                  "encoding": {
                    "x": {"field": "tq", "type": "quantitative", "title": "theoretical quantiles",
                          "scale": {"domain": [-1.96, 3.64], "nice": false, "zero": false},
                          "axis": {"values": [-1, 0, 1, 2, 3], "titlePadding": 15, "labelExpr": "replace(datum.label, '\u2212', '-')"}},
                    "y": {"field": "dr", "type": "quantitative", "title": "deviance residuals",
                          "scale": {"domain": [-1.95, 3.7], "nice": false, "zero": false},
                          "axis": {"values": [-1, 0, 1, 2, 3], "labelExpr": "replace(datum.label, '\u2212', '-')"}}
                  },
                  "layer": [
                    {"data": {"name": "refL"}, "mark": {"type": "line", "color": "#e8413c", "strokeWidth": 1.3, "clip": true}, "encoding": {}},
                    {"data": {"name": "qqL"}, "mark": {"type": "circle", "size": 6, "color": "#1c1c1c", "opacity": 1}, "encoding": {}}
                  ]
                },
                {
                  "width": 194, "height": 154,
                  "title": {"text": "Resids vs. linear pred."},
                  "data": {"name": "rvL"},
                  "mark": {"type": "point", "shape": "circle", "filled": false, "size": 28, "color": "#1a1a1a", "opacity": 0.9, "strokeWidth": 1},
                  "encoding": {
                    "x": {"field": "lp", "type": "quantitative", "title": "linear predictor",
                          "scale": {"domain": [-1120000000, 54000000], "nice": false, "zero": false},
                          "axis": {"values": [-1000000000, -800000000, -600000000, -400000000, -200000000, 0], "titlePadding": 15,
                                   "labelExpr": "datum.value == -1000000000 ? '-1e+09' : datum.value == -600000000 ? '-6e+08' : datum.value == -200000000 ? '-2e+08' : ''"}},
                    "y": {"field": "res", "type": "quantitative", "title": "residuals",
                          "scale": {"domain": [-1.95, 3.7], "nice": false, "zero": false},
                          "axis": {"values": [-1, 0, 1, 2, 3], "labelExpr": "replace(datum.label, '\u2212', '-')"}}
                  }
                },
                {
                  "width": 193, "height": 154,
                  "title": {"text": "Histogram of residuals", "dy": 11},
                  "view": {"stroke": null},
                  "data": {"name": "histL"},
                  "mark": {"type": "rect", "fill": "white", "stroke": "#111", "strokeWidth": 1},
                  "encoding": {
                    "x": {"field": "lo", "type": "quantitative", "title": "Residuals",
                          "scale": {"domain": [-2.22, 3.72], "nice": false, "zero": false},
                          "axis": {"values": [-2, -1, 0, 1, 2, 3], "titlePadding": 17, "domain": true, "domainColor": "#555", "labelExpr": "replace(datum.label, '\u2212', '-')"}},
                    "x2": {"field": "hi"},
                    "y": {"field": "n", "type": "quantitative", "title": "Frequency",
                          "scale": {"domain": [-992, 25792], "nice": false, "zero": false},
                          "axis": {"values": [0, 5000, 10000, 15000, 20000, 25000], "format": "d", "domain": true, "domainColor": "#555",
                                   "labelExpr": "datum.value == 10000 || datum.value == 20000 ? '' : datum.label"}},
                    "y2": {"datum": 0}
                  }
                },
                {
                  "width": 193, "height": 153,
                  "title": {"text": "Response vs. Fitted Values", "dy": 4},
                  "data": {"name": "rfL"},
                  "mark": {"type": "point", "shape": "circle", "filled": false, "size": 28, "color": "#1a1a1a", "opacity": 0.9, "strokeWidth": 1},
                  "encoding": {
                    "x": {"field": "fv", "type": "quantitative", "title": "Fitted Values",
                          "scale": {"domain": [-0.033, 0.815], "nice": false, "zero": false},
                          "axis": {"values": [0, 0.2, 0.4, 0.6, 0.8], "format": ".1f", "titlePadding": 19}},
                    "y": {"field": "resp", "type": "quantitative", "title": "Response",
                          "scale": {"domain": [-0.037, 1.042], "nice": false, "zero": false},
                          "axis": {"values": [0, 0.2, 0.4, 0.6, 0.8, 1], "format": ".1f"}}
                  }
                }
              ]
            }
          ]
        }
      ]
    },
    {
      "bounds": "flush",
      "spacing": 53,
      "hconcat": [
        {
          "bounds": "flush",
          "spacing": 0,
          "vconcat": [
            {"width": 1, "height": 5, "view": {"stroke": null}, "data": {"values": []}, "mark": "point", "encoding": {}},
            {
              "width": 534, "height": 541,
              "view": {"stroke": null},
              "data": {"values": []},
              "mark": {"type": "point"},
              "encoding": {
                "x": {"datum": 0, "type": "quantitative", "scale": {"domain": [0, 1]},
                      "axis": {"orient": "top", "title": null, "labels": false, "ticks": false, "domain": true, "domainColor": "#000", "domainWidth": 2, "domainCap": "square"}},
                "y": {"datum": 0, "type": "quantitative", "scale": {"domain": [0, 1]},
                      "axis": {"orient": "left", "title": null, "labels": false, "ticks": false, "domain": true, "domainColor": "#000", "domainWidth": 2, "domainCap": "square"}}
              }
            }
          ]
        },
        {
          "bounds": "flush",
          "spacing": 0,
          "vconcat": [
            {"width": 1, "height": 55, "view": {"stroke": null}, "data": {"values": []}, "mark": "point", "encoding": {}},
            {
              "bounds": "flush",
              "spacing": 273,
              "hconcat": [
                {
                  "bounds": "flush",
                  "spacing": 120,
                  "vconcat": [
                    {
                      "width": 193, "height": 156,
                      "encoding": {
                        "x": {"field": "tq", "type": "quantitative", "title": "theoretical quantiles",
                              "scale": {"domain": [-11.3, 12.0], "nice": false, "zero": false},
                              "axis": {"values": [-10, -5, 0, 5, 10], "titlePadding": 9, "labelExpr": "replace(datum.label, '\u2212', '-')"}},
                        "y": {"field": "dr", "type": "quantitative", "title": "deviance residuals",
                              "scale": {"domain": [-11.03, 21.24], "nice": false, "zero": false},
                              "axis": {"values": [-10, -5, 0, 5, 10, 15, 20], "labelExpr": "replace(datum.label, '\u2212', '-')"}}
                      },
                      "layer": [
                        {"data": {"name": "refR"}, "mark": {"type": "line", "color": "#e8413c", "strokeWidth": 1.3, "clip": true}, "encoding": {}},
                        {"data": {"name": "qqR"}, "mark": {"type": "circle", "size": 4, "color": "#333", "opacity": 1}, "encoding": {}}
                      ]
                    },
                    {
                      "width": 193, "height": 154,
                      "title": {"text": "Histogram of residuals"},
                      "view": {"stroke": null},
                      "data": {"name": "histR"},
                      "mark": {"type": "rect", "fill": "white", "stroke": "#111", "strokeWidth": 1},
                      "encoding": {
                        "x": {"field": "lo", "type": "quantitative", "title": "Residuals",
                              "scale": {"domain": [-13.28, 21.28], "nice": false, "zero": false},
                              "axis": {"values": [-10, -5, 0, 5, 10, 15, 20], "domain": true, "domainColor": "#555", "labelExpr": "replace(datum.label, '\u2212', '-')"}},
                        "x2": {"field": "hi"},
                        "y": {"field": "n", "type": "quantitative", "title": "Frequency",
                              "scale": {"domain": [-18.5, 455], "nice": false, "zero": false},
                              "axis": {"values": [0, 100, 200, 300, 400], "domain": true, "domainColor": "#555"}},
                        "y2": {"datum": 0}
                      }
                    }
                  ]
                },
                {
                  "bounds": "flush",
                  "spacing": 276,
                  "vconcat": [
                    {
                      "bounds": "flush",
                      "spacing": 0,
                      "vconcat": [
                        {"width": 1, "height": 3, "view": {"stroke": null}, "data": {"values": []}, "mark": "point", "encoding": {}},
                        {
                          "width": 193, "height": 154,
                          "title": {"text": "Resids vs. linear pred."},
                          "data": {"name": "obs"},
                          "mark": {"type": "point", "shape": "circle", "filled": false, "size": 30, "color": "#1a1a1a", "opacity": 0.85, "strokeWidth": 1},
                          "encoding": {
                            "x": {"field": "lp", "type": "quantitative", "title": "linear predictor",
                                  "scale": {"domain": [-2.05, 2.9], "nice": false, "zero": false},
                                  "axis": {"values": [-2, -1, 0, 1, 2], "titlePadding": 8, "labelExpr": "replace(datum.label, '\u2212', '-')"}},
                            "y": {"field": "res", "type": "quantitative", "title": "residuals",
                                  "scale": {"domain": [-11.18, 20.64], "nice": false, "zero": false},
                                  "axis": {"values": [-10, -5, 0, 5, 10, 15, 20], "labelExpr": "replace(datum.label, '\u2212', '-')"}}
                          }
                        }
                      ]
                    },
                    {
                      "width": 192, "height": 153,
                      "title": {"text": "Response vs. Fitted Values"},
                      "data": {"name": "obs"},
                      "mark": {"type": "point", "shape": "circle", "filled": false, "size": 30, "color": "#1a1a1a", "opacity": 0.85, "strokeWidth": 1},
                      "encoding": {
                        "x": {"field": "fit", "type": "quantitative", "title": "Fitted Values",
                              "scale": {"domain": [-0.42, 15.18], "nice": false, "zero": false},
                              "axis": {"values": [0, 5, 10, 15]}},
                        "y": {"field": "resp", "type": "quantitative", "title": "Response",
                              "scale": {"domain": [0.2, 21.8], "nice": false, "zero": false},
                              "axis": {"values": [5, 10, 15, 20]}}
                      }
                    }
                  ]
                }
              ]
            }
          ]
        }
      ]
    }
  ]
}
